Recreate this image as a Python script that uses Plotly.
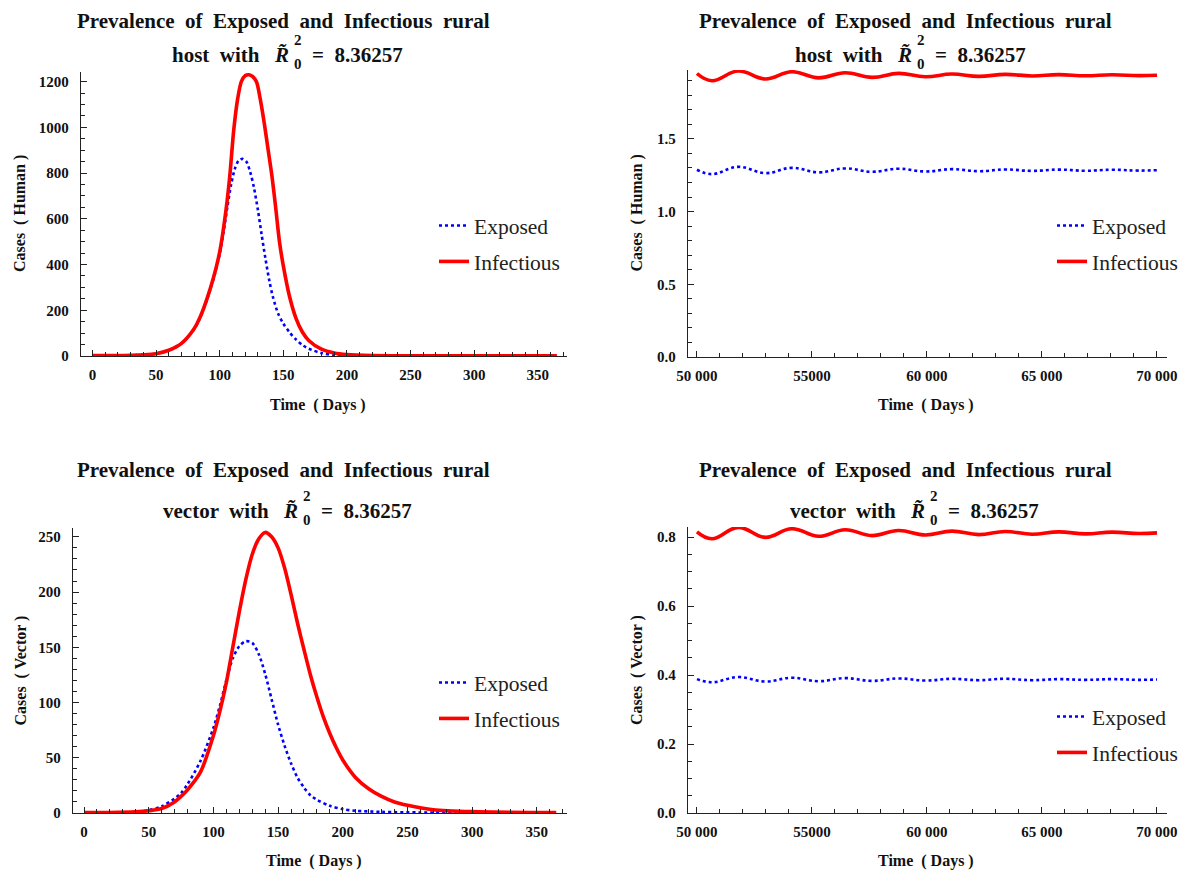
import plotly.graph_objects as go

# ---------------- data ----------------
# Panel 1: rural host, first year
host_exp_days = [0, 10, 20, 30, 40, 50, 60, 70, 80, 85, 90, 95, 100, 103, 106, 109, 112, 115,
                 118, 121, 124, 127, 130, 133, 136, 139, 142, 146, 150, 155, 160, 165, 170,
                 180, 190, 200, 220, 250, 300, 365]
host_exp = [2, 2, 2, 3, 5, 10, 25, 55, 118, 172, 245, 335, 445, 540, 650, 750, 820, 855,
            862, 850, 805, 735, 640, 530, 425, 330, 255, 185, 142, 103, 72, 48, 32,
            13, 5, 2, 0.8, 0.4, 0.3, 0.3]

host_inf_days = [0, 10, 20, 30, 40, 50, 60, 70, 80, 85, 90, 95, 100, 105, 108, 111, 114, 117,
                 120, 123, 126, 129, 132, 135, 138, 141, 144, 147, 150, 155, 160, 165, 170,
                 180, 190, 200, 220, 250, 300, 365]
host_inf = [2, 2, 2, 3, 5, 10, 25, 55, 120, 175, 250, 340, 455, 640, 790, 985, 1120, 1200,
            1226, 1230, 1222, 1198, 1120, 1020, 905, 790, 650, 500, 395, 258, 165, 105, 68,
            30, 13, 6, 2, 1, 0.5, 0.5]

# Panel 3: rural vector, first year
vec_exp_days = [0, 20, 40, 50, 60, 70, 75, 80, 90, 100, 105, 110, 115, 120, 125, 130, 135,
                140, 145, 150, 155, 160, 165, 170, 175, 180, 190, 200, 210, 230, 260, 300, 365]
vec_exp = [0.5, 0.5, 1, 2.5, 6, 13, 18, 26, 47, 77, 97, 120, 140, 151, 155.5, 154, 144,
           126, 103, 80, 61, 45, 32, 23, 16, 12, 6.5, 3.5, 2, 1, 0.5, 0.3, 0.3]

vec_inf_days = [0, 20, 40, 50, 60, 70, 75, 80, 90, 100, 105, 110, 115, 120, 125, 130, 135,
                140, 145, 150, 155, 160, 165, 170, 175, 180, 185, 190, 195, 200, 210, 220,
                230, 240, 250, 270, 300, 365]
vec_inf = [0.5, 0.5, 1, 2, 4, 10, 15, 21, 37, 70, 92, 118, 150, 182, 211, 234, 248,
           254, 250, 240, 222, 198, 172, 148, 125, 105, 87, 72, 59, 48, 32, 22,
           15, 10, 7, 3, 1.2, 0.3]

# Panels 2 & 4: long-run behaviour (start, alternating troughs/peaks, end)
long_days = [50000, 50650, 51800, 52970, 54120, 55290, 56440, 57610, 58760, 59930,
             61080, 62250, 63400, 64570, 65720, 66890, 68040, 69210, 70000]
host_exp_long = [1.288, 1.258, 1.308, 1.265, 1.301, 1.270, 1.297, 1.274, 1.295, 1.276,
                 1.292, 1.278, 1.290, 1.280, 1.289, 1.281, 1.288, 1.282, 1.285]
host_inf_long = [1.950, 1.900, 1.967, 1.912, 1.962, 1.920, 1.955, 1.923, 1.951, 1.928,
                 1.946, 1.930, 1.944, 1.933, 1.942, 1.934, 1.941, 1.935, 1.938]
vec_exp_long = [0.388, 0.379, 0.394, 0.381, 0.392, 0.382, 0.391, 0.383, 0.390, 0.384,
                0.389, 0.385, 0.389, 0.385, 0.388, 0.386, 0.388, 0.386, 0.387]
vec_inf_long = [0.815, 0.795, 0.828, 0.799, 0.824, 0.802, 0.821, 0.804, 0.819, 0.806,
                0.817, 0.807, 0.816, 0.808, 0.815, 0.809, 0.814, 0.810, 0.812]

long_tickvals = [50000, 55000, 60000, 65000, 70000]
long_ticktext = ["50 000", "55000", "60 000", "65 000", "70 000"]

title_line1 = "Prevalence  of  Exposed  and  Infectious  rural"
series_names = ["Exposed", "Infectious"]
R0_value = "8.36257"

# ---------------- layout helpers ----------------
# The page body has an 8px margin, so the figure is placed at (8, 8) in the window.
OFF = 8
W, H = 1191 - OFF, 875 - OFF
def X(px): return (px - OFF) / W
def Y(py): return 1 - (py - OFF) / H

RED = "rgb(255,0,0)"
BLUE = "rgb(0,0,255)"
AX = "#222222"
SERIF = "Liberation Serif"

fig = go.Figure()

panels = [
    dict(n=1, xe=host_exp_days, ye=host_exp, xi=host_inf_days, yi=host_inf, smooth=0.8,
         xpx=(81, 567), ypx=(72, 356), xr=[-9, 373], yr=[0, 1242],
         ydtick=200, yminor=50, xdtick=50, xminor=10, yfmt=None,
         who="host", ylab="Cases  ( Human )", leg=(434, 205), cx=283, ty1=None, ty2=55,
         rleft=274, xlabx=318, xlaby=405, ylabx=20),
    dict(n=2, xe=long_days, ye=host_exp_long, xi=long_days, yi=host_inf_long, smooth=1.2,
         xpx=(688, 1167), ypx=(70, 357), xr=[49610, 70435], yr=[0, 1.974],
         ydtick=0.5, yminor=0.1, xdtick=None, xminor=1000, yfmt=".1f",
         who="host", ylab="Cases  ( Human )", leg=(1052, 205), cx=905, ty1=None, ty2=55,
         rleft=897, xlabx=926, xlaby=405, ylabx=637),
    dict(n=3, xe=vec_exp_days, ye=vec_exp, xi=vec_inf_days, yi=vec_inf, smooth=0.8,
         xpx=(73, 567), ypx=(528, 813), xr=[-8.5, 373.3], yr=[0, 258],
         ydtick=50, yminor=10, xdtick=50, xminor=10, yfmt=None,
         who="vector", ylab="Cases  ( Vector )", leg=(434, 662), cx=283, ty1=470, ty2=511,
         rleft=283, xlabx=314, xlaby=861, ylabx=20),
    dict(n=4, xe=long_days, ye=vec_exp_long, xi=long_days, yi=vec_inf_long, smooth=1.2,
         xpx=(688, 1167), ypx=(527, 813), xr=[49610, 70435], yr=[0, 0.829],
         ydtick=0.2, yminor=0.05, xdtick=None, xminor=1000, yfmt=".1f",
         who="vector", ylab="Cases  ( Vector )", leg=(1052, 696), cx=905, ty1=470, ty2=511,
         rleft=910, xlabx=926, xlaby=861, ylabx=637),
]

annotations = []
layout_extra = {}
tickfont = dict(family=SERIF, size=15, color="#111", weight="bold")

for p in panels:
    n = p["n"]
    sfx = "" if n == 1 else str(n)
    legkey = "legend" if n == 1 else f"legend{n}"
    fig.add_trace(go.Scatter(
        x=p["xe"], y=p["ye"], mode="lines", name=series_names[0],
        line=dict(color=BLUE, width=2.6, dash="3px,3px", shape="spline", smoothing=p["smooth"]),
        xaxis="x" + sfx, yaxis="y" + sfx, legend=legkey, legendgroup=f"e{n}"))
    fig.add_trace(go.Scatter(
        x=p["xi"], y=p["yi"], mode="lines", name=series_names[1],
        line=dict(color=RED, width=3.6, shape="spline", smoothing=p["smooth"]),
        xaxis="x" + sfx, yaxis="y" + sfx, legend=legkey, legendgroup=f"i{n}"))

    xa = dict(domain=[X(p["xpx"][0]), X(p["xpx"][1])], range=p["xr"], anchor="y" + sfx,
              automargin=False,
              showline=True, linecolor=AX, linewidth=1.3, showgrid=False, zeroline=False,
              ticks="inside", ticklen=6, tickwidth=1.3, tickcolor=AX,
              tickfont=tickfont, ticklabelstandoff=5,
              minor=dict(ticks="inside", ticklen=3.5, tickwidth=1, tickcolor=AX,
                         dtick=p["xminor"], showgrid=False))
    if p["xdtick"] is None:
        xa.update(tickmode="array", tickvals=long_tickvals, ticktext=long_ticktext)
        xa["minor"]["tick0"] = 50000
    else:
        xa.update(tick0=0, dtick=p["xdtick"])
        xa["minor"]["tick0"] = 0
    ya = dict(domain=[Y(p["ypx"][1]), Y(p["ypx"][0])], range=p["yr"], anchor="x" + sfx,
              automargin=False,
              showline=True, linecolor=AX, linewidth=1.3, showgrid=False, zeroline=False,
              ticks="inside", ticklen=6, tickwidth=1.3, tickcolor=AX,
              tickfont=tickfont, ticklabelstandoff=8, tick0=0, dtick=p["ydtick"],
              minor=dict(ticks="inside", ticklen=3.5, tickwidth=1, tickcolor=AX,
                         tick0=0, dtick=p["yminor"], showgrid=False))
    if p["yfmt"]:
        ya["tickformat"] = p["yfmt"]
    layout_extra["xaxis" + sfx] = xa
    layout_extra["yaxis" + sfx] = ya
    layout_extra[legkey] = dict(
        x=X(p["leg"][0]), y=Y(p["leg"][1]), xanchor="left", yanchor="top",
        bgcolor="rgba(0,0,0,0)", borderwidth=0, tracegroupgap=5,
        font=dict(family=SERIF, size=21.5, color="#222"))

    # titles
    tfont = dict(family=SERIF, size=21, color="#111", weight="bold")
    sfont = dict(family=SERIF, size=15, color="#111", weight="bold")
    if p["ty1"] is None:
        # top row: keep the whole first title line inside the figure
        annotations.append(dict(text=title_line1, x=X(p["cx"]), y=1, xanchor="center",
                                yanchor="top", borderpad=0, font=tfont))
    else:
        annotations.append(dict(text=title_line1, x=X(p["cx"]), y=Y(p["ty1"]),
                                xanchor="center", yanchor="middle", font=tfont))
    r = p["rleft"]
    y2 = p["ty2"]
    annotations.append(dict(text=f"{p['who']}  with", x=X(r - 12), y=Y(y2), xanchor="right",
                            yanchor="middle", font=tfont))
    annotations.append(dict(text="<i>R\u0303</i>", x=X(r - 2), y=Y(y2), xanchor="left",
                            yanchor="middle", font=tfont))
    annotations.append(dict(text="2", x=X(r + 18), y=Y(y2 - 15), xanchor="left",
                            yanchor="middle", font=sfont))
    annotations.append(dict(text="0", x=X(r + 18), y=Y(y2 + 9), xanchor="left",
                            yanchor="middle", font=sfont))
    annotations.append(dict(text=f"=  {R0_value}", x=X(r + 36), y=Y(y2), xanchor="left",
                            yanchor="middle", font=tfont))
    # axis labels
    lfont = dict(family=SERIF, size=16, color="#111", weight="bold")
    annotations.append(dict(text="Time  ( Days )", x=X(p["xlabx"]), y=Y(p["xlaby"]),
                            xanchor="center", yanchor="middle", font=lfont))
    annotations.append(dict(text=p["ylab"], x=X(p["ylabx"]),
                            y=Y((p["ypx"][0] + p["ypx"][1]) / 2), xanchor="center",
                            yanchor="middle", textangle=-90, font=lfont))

for a in annotations:
    a.update(xref="paper", yref="paper", showarrow=False)

fig.update_layout(
    width=W, height=H, margin=dict(l=0, r=0, t=0, b=0, autoexpand=False),
    paper_bgcolor="white", plot_bgcolor="white",
    showlegend=True, annotations=annotations, **layout_extra)

fig.write_html("out.html")
